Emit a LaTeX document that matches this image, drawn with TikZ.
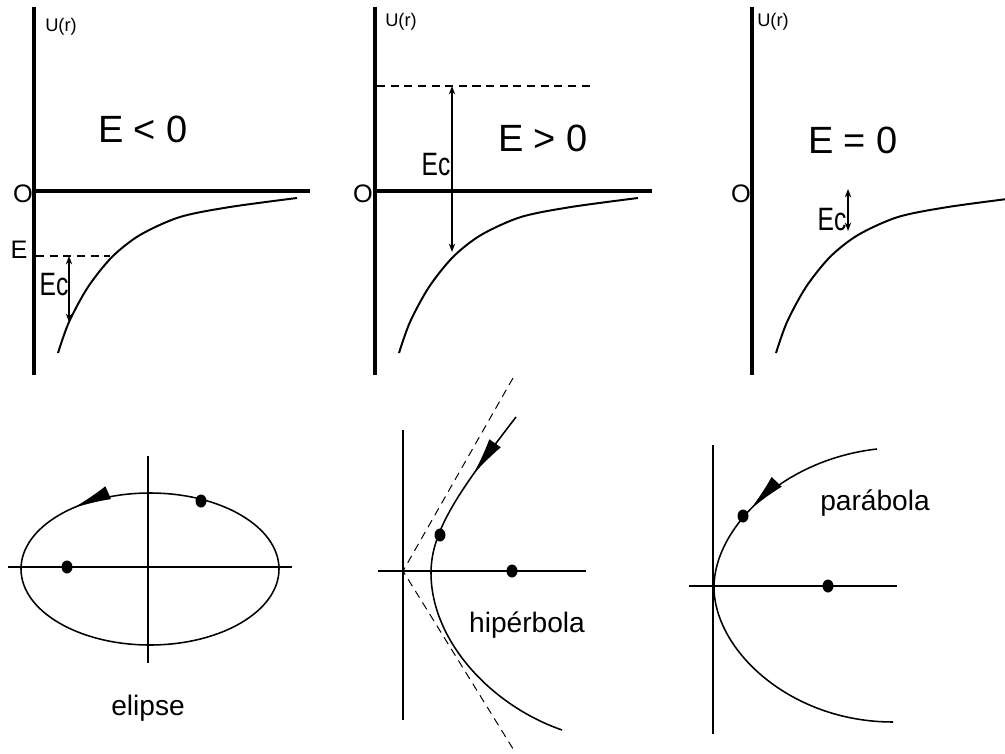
\documentclass[tikz,border=0pt]{standalone}
\usepackage{fontspec}
\setmainfont{Liberation Sans}
\newfontfamily\narrowfont[FakeStretch=0.76]{Liberation Sans}
\usetikzlibrary{
  arrows.meta, % For arrow tips
  decorations.markings % For the arrows along the orbits
}

\begin{document}
\begin{tikzpicture}[
      x=0.025cm, y=-0.025cm, % one unit = one pixel, y pointing down
      axis/.style={line width=2.3pt}, % axes of the energy plots
      thinaxis/.style={line width=1.3pt}, % axes of the orbits
      curve/.style={line width=1.4pt},
      orbit/.style={line width=1.1pt},
      elevel/.style={line width=1.9pt, dash pattern=on 5.7pt off 4pt},
      asym/.style={line width=0.7pt, dash pattern=on 5.7pt off 4pt},
      ecarrow/.style={line width=0.9pt, {Stealth[length=6pt,width=4.5pt]}-{Stealth[length=6pt,width=4.5pt]}},
      bigtext/.style={font=\fontsize{27}{30}\selectfont},
      ulabel/.style={font=\fontsize{13}{15}\selectfont, inner sep=0pt, anchor=west},
      olabel/.style={font=\fontsize{18}{20}\selectfont},
      eclabel/.style={font=\narrowfont\fontsize{23}{25}\selectfont},
      orblabel/.style={font=\fontsize{20}{24}\selectfont},
      dir mark/.style={postaction={decorate}, decoration={markings,
        mark=at position #1 with {\arrow{Latex[length=27pt,width=10pt]}}}},
      rev mark/.style={postaction={decorate}, decoration={markings,
        mark=at position #1 with {\arrowreversed{Latex[length=27pt,width=10pt]}}}},
      potential/.pic={
        \draw[curve] plot[smooth] coordinates {(24,353) (35,322) (54,287) (78,257)
          (106,235) (146,217) (196,207) (263,198)};
      },
    ]

    \useasboundingbox (0,0) rectangle (1005,754);

    % E < 0
    \draw[axis] (34,7) -- (34,375);
    \draw[axis] (34,191) -- (310,191);
    \pic at (34,0) {potential};
    \coordinate (E1) at (69,256);
    \coordinate (U1) at (69,322);
    \draw[elevel] (36,256) -- (110,256);
    \draw[ecarrow] (E1) -- (U1);
    \node[ulabel] (ur1) at (45,27) {U(r)};
    \node[olabel] (o1) at (23,194) {O};
    \node[olabel] (e1) at (19,250) {E};
    \node[bigtext] (t1) at (143,129) {E < 0};
    \node[eclabel] (ec1) at (54,285) {Ec};

    % E > 0
    \draw[axis] (375,7) -- (375,375);
    \draw[axis] (375,191) -- (652,191);
    \pic at (375,0) {potential};
    \coordinate (E2) at (452,86);
    \coordinate (U2) at (452,252);
    \draw[elevel] (377,86) -- (592,86);
    \draw[ecarrow] (E2) -- (U2);
    \node[ulabel] (ur2) at (385,22) {U(r)};
    \node[olabel] (o2) at (363,194) {O};
    \node[bigtext] (t2) at (543,138) {E > 0};
    \node[eclabel] (ec2) at (436,165) {Ec};

    % E = 0
    \draw[axis] (752,7) -- (752,375);
    \pic at (752,0) {potential};
    \coordinate (E3) at (848,189);
    \coordinate (U3) at (848,231);
    \draw[ecarrow] (E3) -- (U3);
    \node[ulabel] (ur3) at (757,22) {U(r)};
    \node[olabel] (o3) at (741,194) {O};
    \node[bigtext] (t3) at (853,140) {E = 0};
    \node[eclabel] (ec3) at (832,220) {Ec};

    % elipse
    \draw[thinaxis] (8,567) -- (292,567);
    \draw[thinaxis] (148,456) -- (148,663);
    \draw[orbit, rev mark=0.63] (150,569) ellipse [x radius=129, y radius=76];
    \fill (67,567) ellipse [x radius=5.5, y radius=6.5];
    \fill (201,501) ellipse [x radius=5.5, y radius=6.5];
    \node[orblabel] (l1) at (148,708) {elipse};

    % hiperbola
    \draw[asym] (513,378) -- (403,571) -- (515,752);
    \draw[thinaxis] (378,571) -- (586,571);
    \draw[thinaxis] (403,430) -- (403,720);
    \draw[orbit, dir mark=0.18] (516,417) .. controls (460,490) and (431,530) .. (431,573)
      .. controls (431,640) and (490,705) .. (562,730);
    \fill (440,535) ellipse [x radius=5.5, y radius=6.5];
    \fill (512,571) ellipse [x radius=5.5, y radius=6.5];
    \node[orblabel] (l2) at (527,625) {hipérbola};

    % parabola
    \draw[thinaxis] (689,586) -- (897,586);
    \draw[thinaxis] (713,445) -- (713,734);
    \draw[orbit, dir mark=0.3] (877,449) .. controls (780,460) and (714,530) .. (714,587)
      .. controls (714,650) and (790,722) .. (893,722);
    \fill (743,516) ellipse [x radius=5.5, y radius=6.5];
    \fill (828,586) ellipse [x radius=5.5, y radius=6.5];
    \node[orblabel] (l3) at (875,503) {parábola};

  \end{tikzpicture}
\end{document}
